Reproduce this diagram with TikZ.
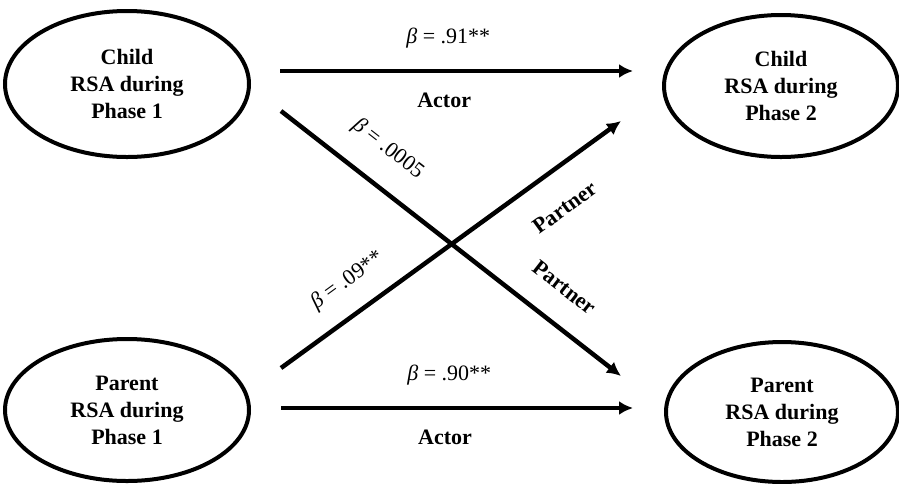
\documentclass[tikz,border=0pt]{standalone}
\usepackage{fontspec}
\setmainfont{Liberation Serif}
\usetikzlibrary{shapes.geometric,arrows.meta}

\begin{document}
\begin{tikzpicture}[x=1pt,y=-1pt,font=\fontsize{22}{27}\selectfont,
  var/.style={ellipse,draw,line width=4pt,inner sep=0pt,align=center,font=\fontsize{22}{27}\selectfont\bfseries},
  link/.style={line width=4.5pt,-{Latex[length=14pt,width=14pt]}},
  lab/.style={font=\fontsize{22}{27}\selectfont\bfseries}]
  \useasboundingbox (0,0) rectangle (899,483);
  % variables
  \node[var,minimum width=244pt,minimum height=146pt] (c1) at (127,84) {Child\\RSA during\\Phase 1};
  \node[var,minimum width=234pt,minimum height=142pt] (c2) at (781,86) {Child\\RSA during\\Phase 2};
  \node[var,minimum width=244pt,minimum height=142pt] (p1) at (127,410) {Parent\\RSA during\\Phase 1};
  \node[var,minimum width=232pt,minimum height=140pt] (p2) at (782,412) {Parent\\RSA during\\Phase 2};
  % actor paths
  \draw[link,shorten <=29pt,shorten >=29pt] ([yshift=13pt]c1.east) -- ([yshift=15pt]c2.west)
    node[pos=0.48,above=17pt] {\textit{β} = .91**}
    node[lab,pos=0.47,below=16pt] {Actor};
  \draw[link,shorten <=30pt,shorten >=31pt] ([yshift=2pt]p1.east) -- ([yshift=4pt]p2.west)
    node[pos=0.48,above=17pt] {\textit{β} = .90**}
    node[lab,pos=0.47,below=16pt] {Actor};
  % partner paths
  \draw[link] ([shift={(30,27)}]c1.east) -- ([shift={(-43,-36)}]p2.west)
    node[pos=0.25,sloped,above=20pt] {\textit{β} = .0005}
    node[lab,pos=0.77,sloped,above=22pt] {Partner};
  \draw[link] ([shift={(30,-42)}]p1.east) -- ([shift={(-41,35)}]c2.west)
    node[pos=0.25,sloped,above=16pt] {\textit{β} = .09**}
    node[lab,pos=0.77,sloped,below=24pt] {Partner};
\end{tikzpicture}
\end{document}
